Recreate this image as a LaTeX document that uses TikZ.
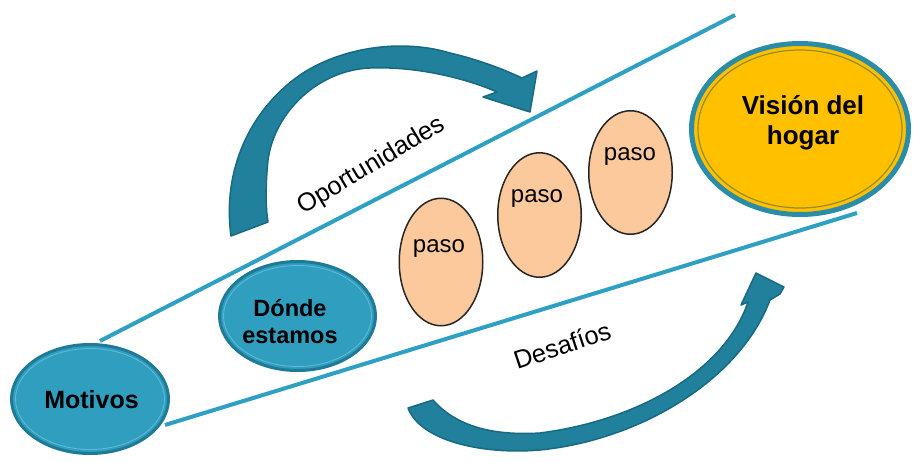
\documentclass[tikz,border=0pt]{standalone}
\usepackage{fontspec}
\setmainfont{Liberation Sans}
\usetikzlibrary{shapes.geometric}
\definecolor{lineteal}{RGB}{46,160,195}
\definecolor{nodeteal}{RGB}{48,158,190}
\definecolor{nodeedge}{RGB}{30,122,150}
\definecolor{nodehi}{RGB}{95,185,212}
\definecolor{arrowfill}{RGB}{33,128,155}
\definecolor{arrowedge}{RGB}{24,105,130}
\definecolor{arrowhi}{RGB}{62,158,186}
\definecolor{pasofill}{RGB}{251,201,156}
\definecolor{gold}{RGB}{255,192,0}
\definecolor{visionedge}{RGB}{42,140,166}
\definecolor{visionin}{RGB}{150,140,40}
\begin{document}
\begin{tikzpicture}[x=1pt,y=-1pt,
  guide/.style={draw=lineteal,line width=4pt},
  bluenode/.style={ellipse,fill=nodeteal,draw=nodeedge,line width=3pt,inner sep=0pt},
  bluering/.style={ellipse,draw=nodehi,line width=0.9pt,inner sep=0pt},
  pasonode/.style={ellipse,fill=pasofill,draw=black!85,line width=1.5pt,inner sep=0pt,minimum width=83.5pt},
  blockarrow/.style={fill=arrowfill,draw=arrowedge,line width=1.5pt,line join=round},
  boldtext/.style 2 args={font=\bfseries\fontsize{#1}{#2}\selectfont,align=center,inner sep=0pt},
  plaintext/.style={font=\fontsize{#1}{#1}\selectfont,inner sep=0pt}
]
\useasboundingbox (0,0) rectangle (913,461);
\fill[white] (0,0) rectangle (913,461);

% guide lines
\coordinate (topA) at (100,341);
\coordinate (topB) at (735,15);
\coordinate (botA) at (165,425);
\coordinate (botB) at (857,213);
\draw[guide] (topA) -- (topB);
\draw[guide] (botA) -- (botB);

% top curved arrow
\path[blockarrow] (231,236) .. controls (222,170) and (250,110) .. (300,75)
  .. controls (340,48) and (400,38) .. (450,53)
  .. controls (480,60) and (505,70) .. (522,78) -- (537,71) -- (530,112) -- (483,97) -- (497,92)
  .. controls (470,80) and (420,66) .. (370,68)
  .. controls (320,70) and (275,110) .. (268,160)
  .. controls (265,190) and (266,210) .. (268,222) -- cycle;

% bottom curved arrow
\path[blockarrow] (408,408) .. controls (420,440) and (480,455) .. (540,450)
  .. controls (640,440) and (740,380) .. (770,300) -- (780,294) -- (784,287) -- (756,273) -- (741,305) -- (748,302)
  .. controls (725,370) and (640,420) .. (540,433)
  .. controls (490,436) and (455,425) .. (433,400) -- cycle;

% nodes
\node[bluenode,minimum width=157pt,minimum height=109pt] (mot) at (90,399) {};
\node[bluering,minimum width=149pt,minimum height=101pt] (motr) at (90,399) {};
\node[bluenode,minimum width=156pt,minimum height=109pt] (don) at (297.5,316) {};
\node[bluering,minimum width=148pt,minimum height=101pt] (donr) at (297.5,316) {};

\node[pasonode,minimum height=127.5pt] (p1) at (441,262) {};
\node[pasonode,minimum height=124.5pt] (p2) at (539.5,215) {};
\node[pasonode,minimum height=123.5pt] (p3) at (630.5,172.5) {};

\node[ellipse,fill=gold,draw=visionedge,line width=5pt,inner sep=0pt,minimum width=217pt,minimum height=171pt] (vis) at (800,129) {};
\node[ellipse,draw=visionin,line width=1.2pt,inner sep=0pt,minimum width=204pt,minimum height=158pt] (visr) at (800,129) {};

% texts
\node[boldtext={25}{29},anchor=base] (tmot) at (91.5,408) {Motivos};
\node[boldtext={23.5}{27}] (tdon) at (290,321) {Dónde\\estamos};
\node[plaintext=24,anchor=base] (tp1) at (439,252) {paso};
\node[plaintext=24,anchor=base] (tp2) at (537,202) {paso};
\node[plaintext=24,anchor=base] (tp3) at (630,160) {paso};
\node[boldtext={26}{30}] (tvis) at (803,123) {Visión del\\hogar};
\node[plaintext=25.5,anchor=base,rotate=31] (topo) at (375,171.5) {Oportunidades};
\node[plaintext=25.5,anchor=base,rotate=18.4] (tdes) at (565,354) {Desafíos};
\end{tikzpicture}
\end{document}
